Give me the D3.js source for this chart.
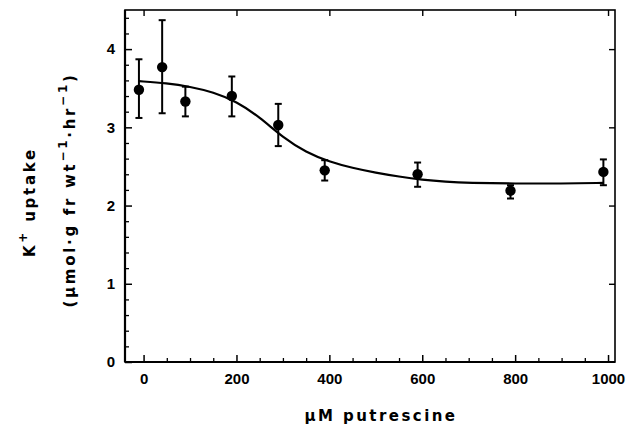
<!DOCTYPE html>
<html><head><meta charset="utf-8">
<script src="https://cdn.jsdelivr.net/npm/d3@7"></script>
<style>body{margin:0;background:#fff}</style>
</head><body>
<svg id="c" width="629" height="427"></svg>
<script>
// Data
const conc   = [-10, 40, 90, 190, 290, 390, 590, 790, 990];
const uptake = [3.48, 3.77, 3.33, 3.40, 3.03, 2.45, 2.40, 2.19, 2.43];
const errHi  = [3.87, 4.37, 3.52, 3.65, 3.30, 2.58, 2.55, 2.26, 2.59];
const errLo  = [3.12, 3.18, 3.14, 3.14, 2.76, 2.32, 2.24, 2.09, 2.26];
// Fitted curve
const fitX = [-10, 50, 100, 150, 200, 250, 300, 350, 400, 450, 500, 550, 600, 650, 700, 800, 900, 990];
const fitY = [3.59, 3.565, 3.52, 3.45, 3.33, 3.13, 2.87, 2.68, 2.56, 2.48, 2.42, 2.37, 2.33, 2.305, 2.29, 2.28, 2.28, 2.29];
const xTicks = [0, 200, 400, 600, 800, 1000];
const yTicks = [0, 1, 2, 3, 4];

const svg = d3.select("#c");
const L = 125, R = 615, T = 10, B = 362;
const x = d3.scaleLinear().domain([-40, 1015]).range([L, R]);
const y = d3.scaleLinear().domain([0, 4.5]).range([B, T]);
const font = "'Liberation Sans', Arial, sans-serif";
const tfont = "'DejaVu Sans', 'Liberation Sans', sans-serif";

// frame
svg.append("rect").attr("x", L).attr("y", T).attr("width", R - L).attr("height", B - T)
  .attr("fill", "none").attr("stroke", "#000").attr("stroke-width", 1.6);
svg.append("line").attr("x1", L).attr("x2", L).attr("y1", T).attr("y2", B).attr("stroke", "#000").attr("stroke-width", 2.2);
svg.append("line").attr("x1", L).attr("x2", R).attr("y1", B).attr("y2", B).attr("stroke", "#000").attr("stroke-width", 2.2);

// bottom axis (ticks inward)
const xMinor = d3.range(0, 1001, 50).filter(v => v % 200 !== 0);
const gx = svg.append("g").attr("transform", `translate(0,${B})`);
gx.call(d3.axisBottom(x).tickValues(xTicks).tickSizeInner(-7).tickSizeOuter(0).tickPadding(11).tickFormat(d3.format("d")));
gx.select(".domain").remove();
gx.selectAll(".tick line").attr("stroke-width", 1.5);
gx.selectAll("text").attr("font-family", font).attr("font-size", 15).attr("font-weight", "bold").attr("dy", "0.71em");
const gx2 = svg.append("g").attr("transform", `translate(0,${B})`);
gx2.call(d3.axisBottom(x).tickValues(xMinor).tickSizeInner(-4).tickSizeOuter(0).tickFormat(""));
gx2.select(".domain").remove();
gx2.selectAll(".tick line").attr("stroke-width", 1.3);

// top axis major ticks
const gt = svg.append("g").attr("transform", `translate(0,${T})`);
gt.call(d3.axisTop(x).tickValues(xTicks).tickSizeInner(-6).tickSizeOuter(0).tickFormat(""));
gt.select(".domain").remove();
gt.selectAll(".tick line").attr("stroke-width", 1.4);

// left axis
const yMinor = d3.range(0, 4.41, 0.2).filter(v => Math.abs(v - Math.round(v)) > 0.01);
const gy = svg.append("g").attr("transform", `translate(${L},0)`);
gy.call(d3.axisLeft(y).tickValues(yTicks).tickSizeInner(-7).tickSizeOuter(0).tickPadding(10).tickFormat(d3.format("d")));
gy.select(".domain").remove();
gy.selectAll(".tick line").attr("stroke-width", 1.5);
gy.selectAll("text").attr("font-family", font).attr("font-size", 15).attr("font-weight", "bold");
const gy2 = svg.append("g").attr("transform", `translate(${L},0)`);
gy2.call(d3.axisLeft(y).tickValues(yMinor).tickSizeInner(-4).tickSizeOuter(0).tickFormat(""));
gy2.select(".domain").remove();
gy2.selectAll(".tick line").attr("stroke-width", 1.3);

// right axis major ticks
const gr = svg.append("g").attr("transform", `translate(${R},0)`);
gr.call(d3.axisRight(y).tickValues(yTicks.filter(v => v > 0)).tickSizeInner(-6).tickSizeOuter(0).tickFormat(""));
gr.select(".domain").remove();
gr.selectAll(".tick line").attr("stroke-width", 1.4);

// fitted curve
const line = d3.line().x((d, i) => x(fitX[i])).y(d => y(d)).curve(d3.curveBasis);
svg.append("path").attr("d", line(fitY)).attr("fill", "none").attr("stroke", "#000").attr("stroke-width", 2.2);

// error bars
const pts = conc.map((c, i) => ({c, v: uptake[i], hi: errHi[i], lo: errLo[i]}));
const eb = svg.append("g").attr("stroke", "#000").attr("stroke-width", 2);
eb.selectAll("line.v").data(pts).join("line").attr("class", "v")
  .attr("x1", d => x(d.c)).attr("x2", d => x(d.c)).attr("y1", d => y(d.hi)).attr("y2", d => y(d.lo));
eb.selectAll("line.h").data(pts).join("line").attr("class", "h")
  .attr("x1", d => x(d.c) - 3.5).attr("x2", d => x(d.c) + 3.5).attr("y1", d => y(d.hi)).attr("y2", d => y(d.hi));
eb.selectAll("line.l").data(pts).join("line").attr("class", "l")
  .attr("x1", d => x(d.c) - 3.5).attr("x2", d => x(d.c) + 3.5).attr("y1", d => y(d.lo)).attr("y2", d => y(d.lo));
svg.selectAll("circle").data(pts).join("circle")
  .attr("cx", d => x(d.c)).attr("cy", d => y(d.v)).attr("r", 5.2).attr("fill", "#000");

// fit a text's overall length by adjusting letter spacing
function fitWidth(sel, target) {
  const n = sel.text().length;
  const w = sel.node().getBBox().width;
  sel.attr("letter-spacing", Math.max(0, (target - w) / n));
}

// axis titles
const xt = svg.append("text").attr("x", 381).attr("y", 421).attr("text-anchor", "middle")
  .attr("font-family", tfont).attr("font-size", 15).attr("font-weight", "bold")
  .text("\u03BCM putrescine");
fitWidth(xt, 153);

const t1 = svg.append("text").attr("transform", "translate(35,202) rotate(-90)").attr("text-anchor", "middle")
  .attr("font-family", tfont).attr("font-size", 15).attr("font-weight", "bold");
t1.append("tspan").text("K");
t1.append("tspan").attr("dy", -8).attr("font-size", 12).text("+");
t1.append("tspan").attr("dy", 8).text(" uptake");
fitWidth(t1, 110);

const t2 = svg.append("text").attr("transform", "translate(75,190) rotate(-90)").attr("text-anchor", "middle")
  .attr("font-family", tfont).attr("font-size", 15).attr("font-weight", "bold");
t2.append("tspan").text("(\u03BCmol\u00B7g fr wt");
t2.append("tspan").attr("dy", -8).attr("font-size", 12).text("\u22121");
t2.append("tspan").attr("dy", 8).text("\u00B7hr");
t2.append("tspan").attr("dy", -8).attr("font-size", 12).text("\u22121");
t2.append("tspan").attr("dy", 8).text(")");
fitWidth(t2, 235);
</script>
</body></html>
